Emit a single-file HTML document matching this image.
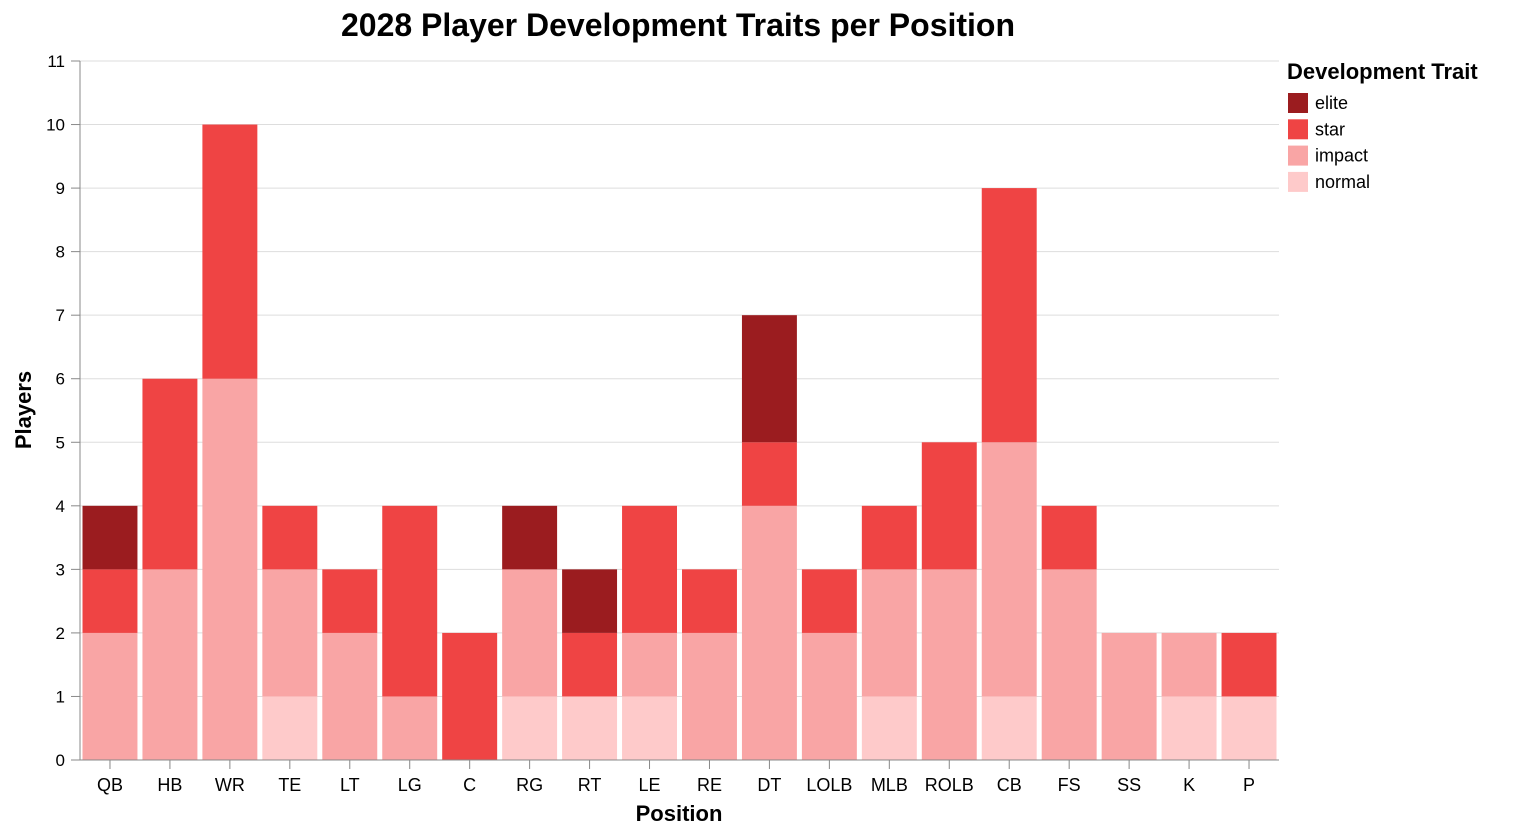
<!DOCTYPE html>
<html><head><meta charset="utf-8"><style>
body{margin:0;background:#fff;font-family:"Liberation Sans",Arial,sans-serif}
</style></head><body>
<svg id="chart" width="1516" height="834" xmlns="http://www.w3.org/2000/svg" font-family="Liberation Sans, Arial, sans-serif"></svg>
<script>
const categories=["QB","HB","WR","TE","LT","LG","C","RG","RT","LE","RE","DT","LOLB","MLB","ROLB","CB","FS","SS","K","P"];
const normalVals=[0,0,0,1,0,0,0,1,1,1,0,0,0,1,0,1,0,0,1,1];
const impactVals=[2,3,6,2,2,1,0,2,0,1,2,4,2,2,3,4,3,2,1,0];
const starVals=[1,3,4,1,1,3,2,0,1,2,1,1,1,1,2,4,1,0,0,1];
const eliteVals=[1,0,0,0,0,0,0,1,1,0,0,2,0,0,0,0,0,0,0,0];
const yTicks=[0,1,2,3,4,5,6,7,8,9,10,11];
const traits=["elite","star","impact","normal"];
const colors={elite:"#9b1c1f",star:"#ef4444",impact:"#f9a5a5",normal:"#fecaca"};
const series={normal:normalVals,impact:impactVals,star:starVals,elite:eliteVals};
const NS="http://www.w3.org/2000/svg";
const svg=document.getElementById("chart");
const X0=80,X1=1279,Y0=760,Y1=61,YMAX=11;
const band=(X1-X0)/categories.length;
const xs=i=>X0+i*band;
const ys=v=>Y0-(v/YMAX)*(Y0-Y1);
function mk(tag,attrs,text){const e=document.createElementNS(NS,tag);for(const k in attrs)e.setAttribute(k,attrs[k]);if(text!==undefined)e.textContent=text;svg.appendChild(e);return e;}
yTicks.forEach(t=>{
 const g=mk("line",{x1:X0,x2:X1,y1:ys(t),y2:ys(t),stroke:"#ddd","stroke-width":1});
 
 
 const tk=mk("line",{x1:X0-9,x2:X0,y1:ys(t),y2:ys(t),stroke:"#888"});
 
 
 const l=mk("text",{x:X0-15,y:ys(t)+6,"text-anchor":"end","font-size":17,fill:"#000"},t);
 
 
});
categories.forEach((c,i)=>{
 let base=0;
 ["normal","impact","star","elite"].forEach(tr=>{
  const v=series[tr][i];
  if(v>0){
   const r=mk("rect",{x:xs(i)+2.5,width:band-5,y:ys(base+v),height:ys(base)-ys(base+v),fill:colors[tr]});
   
   
  }
  base+=v;
 });
 const tk=mk("line",{x1:xs(i)+band/2,x2:xs(i)+band/2,y1:Y0,y2:Y0+9,stroke:"#888"});
 
 
 const l=mk("text",{x:xs(i)+band/2,y:791,"text-anchor":"middle","font-size":18},c);
 
 
});
const xa=mk("line",{x1:X0,x2:X1,y1:Y0,y2:Y0,stroke:"#888"});


const ya=mk("line",{x1:X0,x2:X0,y1:Y1,y2:Y0,stroke:"#888"});


const xt=mk("text",{x:679,y:821,"text-anchor":"middle","font-size":22,"font-weight":"bold"},"Position");


const yt=mk("text",{x:0,y:0,"text-anchor":"middle","font-size":22,"font-weight":"bold",transform:"translate(31,410) rotate(-90)"},"Players");


const ti=mk("text",{x:678,y:36,"text-anchor":"middle","font-size":32,"font-weight":"bold"},"2028 Player Development Traits per Position");


const lt=mk("text",{x:1287,y:79,"font-size":22,"font-weight":"bold"},"Development Trait");


traits.forEach((tr,k)=>{
 const r=mk("rect",{x:1288,y:93+k*26.3,width:20,height:20,fill:colors[tr]});
 
 
 const t=mk("text",{x:1315,y:109+k*26.3,"font-size":18},tr);
 
 
});
</script>
</body></html>
